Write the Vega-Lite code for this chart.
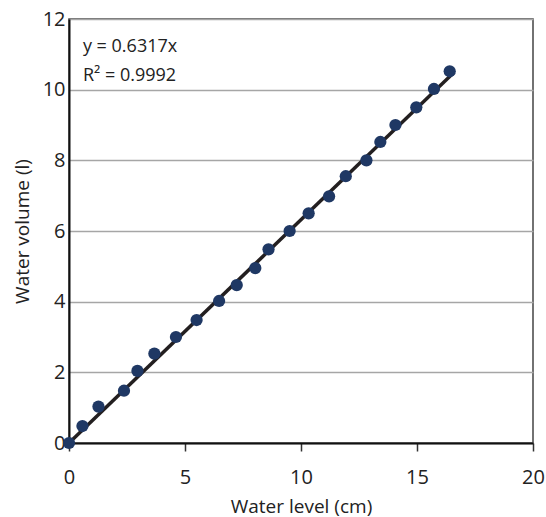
{
  "$schema": "https://vega.github.io/schema/vega-lite/v6.json",
  "width": 464,
  "height": 424,
  "autosize": {"type": "none"},
  "padding": {"left": 69, "top": 19, "right": 13, "bottom": 74},
  "background": "white",
  "config": {
    "font": "Open Sans",
    "view": {"stroke": "#444444", "strokeWidth": 1.5},
    "axis": {"labelFont": "Open Sans", "titleFont": "Open Sans", "labelFontSize": 20, "titleFontSize": 19, "titleFontWeight": "normal", "labelColor": "#222222", "titleColor": "#222222", "labelFlush": false}
  },
  "datasets": {
    "obs": [
      {"level": 0.0, "volume": 0.0},
      {"level": 0.58, "volume": 0.48},
      {"level": 1.27, "volume": 1.03},
      {"level": 2.37, "volume": 1.48},
      {"level": 2.95, "volume": 2.04},
      {"level": 3.68, "volume": 2.53},
      {"level": 4.61, "volume": 3.0},
      {"level": 5.5, "volume": 3.48},
      {"level": 6.47, "volume": 4.02},
      {"level": 7.23, "volume": 4.47},
      {"level": 8.03, "volume": 4.95},
      {"level": 8.6, "volume": 5.48},
      {"level": 9.51, "volume": 6.0},
      {"level": 10.33, "volume": 6.5},
      {"level": 11.21, "volume": 6.98},
      {"level": 11.93, "volume": 7.55},
      {"level": 12.82, "volume": 8.0},
      {"level": 13.42, "volume": 8.52},
      {"level": 14.07, "volume": 9.0},
      {"level": 14.97, "volume": 9.5},
      {"level": 15.73, "volume": 10.02},
      {"level": 16.41, "volume": 10.52}
    ],
    "fit": [
      {"level": 0.0, "volume": 0.0},
      {"level": 16.6, "volume": 10.49}
    ],
    "notes": [
      {"label": "y = 0.6317x", "nx": 0.6, "ny": 11.07},
      {"label": "R² = 0.9992", "nx": 0.6, "ny": 10.25}
    ]
  },
  "layer": [
    {
      "data": {"name": "fit"},
      "mark": {"type": "line", "color": "#231f20", "strokeWidth": 3.5},
      "encoding": {
        "x": {
          "field": "level", "type": "quantitative",
          "scale": {"domain": [0, 20], "nice": false},
          "axis": {"title": "Water level (cm)", "values": [0, 5, 10, 15, 20], "grid": false, "domainColor": "#111111", "domainWidth": 2, "tickColor": "#333333", "tickWidth": 1.5, "tickSize": 8, "labelPadding": 16, "titlePadding": 10}
        },
        "y": {
          "field": "volume", "type": "quantitative",
          "scale": {"domain": [0, 12], "nice": false},
          "axis": {"title": "Water volume (l)", "values": [0, 2, 4, 6, 8, 10, 12], "grid": true, "gridColor": "#a6a6a6", "gridWidth": 1.5, "domainColor": "#111111", "domainWidth": 2, "ticks": false, "labelPadding": 4, "titlePadding": 10}
        }
      }
    },
    {
      "data": {"name": "obs"},
      "mark": {"type": "point", "filled": true, "opacity": 1, "color": "#1f3864", "size": 150},
      "encoding": {
        "x": {"field": "level", "type": "quantitative"},
        "y": {"field": "volume", "type": "quantitative"}
      }
    },
    {
      "data": {"name": "notes"},
      "mark": {"type": "text", "align": "left", "baseline": "alphabetic", "fontSize": 18, "color": "#222222", "font": "Open Sans"},
      "encoding": {
        "x": {"field": "nx", "type": "quantitative"},
        "y": {"field": "ny", "type": "quantitative"},
        "text": {"field": "label"}
      }
    }
  ]
}
